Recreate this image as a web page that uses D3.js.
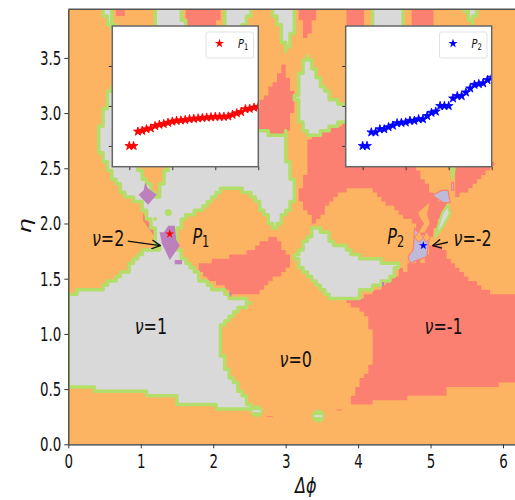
<!DOCTYPE html>
<html>
<head>
<meta charset="utf-8">
<script src="https://cdn.jsdelivr.net/npm/d3@7"></script>
<style>
	body { margin: 0; background: #fff; }
	text { font-family: 'DejaVu Sans', sans-serif; fill: #111; }
</style>
</head>
<body>
<div id="chart"></div>
<script>
//-------------------data, all regions in (delta phi, eta)----------------------------------
const xTicks = [0, 1, 2, 3, 4, 5, 6]
const yTicks = [0, 0.5, 1, 1.5, 2, 2.5, 3, 3.5]

const salmonRegions = [
	[[2.96,3.45],[3.09,3.21],[3.09,3.00],[3.02,2.83],[2.89,2.80],[2.62,2.85],[2.5,3.0],[2.62,3.06],[2.85,3.30]],
	[[1.75,1.61],[1.91,1.64],[2.23,1.71],[2.41,1.71],[2.44,1.76],[2.58,1.78],[2.65,1.82],[2.83,1.91],[3.09,1.65],[2.95,1.55],[2.78,1.46],[2.62,1.36],[2.27,1.35],[2.16,1.42],[2.00,1.47],[1.86,1.53]],
	[[3.29,2.76],[3.36,2.78],[3.64,2.87],[3.83,2.92],[3.83,2.55],[4.81,2.55],[4.81,2.50],[5.02,2.26],[5.23,2.18],[5.13,2.03],[5.03,1.90],[4.97,1.85],[4.78,1.92],[4.78,2.01],[4.65,2.05],[4.21,2.29],[4.05,2.34],[3.89,2.34],[3.82,2.29],[3.65,2.21],[3.40,2.00],[3.20,2.21],[3.20,2.33],[3.29,2.48]],
	[[5.34,2.55],[5.85,2.55],[5.85,2.50],[5.52,2.29],[5.37,2.24],[5.34,2.37]],
	[[5.09,1.82],[5.17,1.76],[5.43,1.56],[5.61,1.46],[5.85,1.37],[6.28,1.36],[6.28,0.55],[5.96,0.55],[5.89,0.50],[5.23,0.50],[5.20,0.46],[4.74,0.45],[4.69,0.39],[4.21,0.39],[4.19,0.36],[3.86,0.36],[4.16,0.72],[4.19,0.76],[4.19,1.01],[4.14,1.13],[3.96,1.24],[3.86,1.30],[4.03,1.33],[4.23,1.39],[4.37,1.46],[4.55,1.55],[4.60,1.62],[4.64,1.54],[4.70,1.66],[4.74,1.58],[4.82,1.70],[4.87,1.62],[5.02,1.80]],
	[[0.67,3.94],[0.78,3.94],[0.72,3.78]],
	[[1.60,3.94],[2.09,3.94],[2.05,3.75],[1.64,3.75]],
	[[3.17,3.94],[3.45,3.94],[3.36,3.80],[3.30,3.63],[3.25,3.71],[3.20,3.85]],
	[[3.82,3.94],[4.09,3.94],[4.11,3.75],[3.83,3.75]],
	[[4.73,3.94],[5.06,3.94],[5.02,3.75],[4.77,3.75]],
]
const salmonSlivers = [
	[[1.03,2.09],[1.22,1.90],[1.27,1.81],[1.16,1.91],[1.03,2.03]],
]
const orangePatches = [
	[[4.83,2.10],[4.99,2.19],[4.95,2.09],[4.99,2.00],[4.92,1.92],[4.83,1.91],[4.91,2.00],[4.85,2.06]],
]
const grayRegions = [
	[[0,1.33],[0.13,1.39],[0.41,1.40],[0.58,1.48],[0.78,1.56],[1.03,1.74],[1.24,1.78],[1.20,1.94],[1.09,2.09],[0.99,2.21],[0.82,2.23],[0.58,2.46],[0.44,2.67],[0.44,2.87],[0.59,3.24],[0.75,3.0],[0.95,2.50],[1.22,2.24],[1.36,2.50],[1.82,2.76],[2.62,2.85],[2.89,2.80],[3.02,2.82],[3.03,2.57],[3.13,2.24],[2.85,1.94],[2.55,2.26],[2.37,2.32],[2.19,2.32],[2.09,2.29],[1.82,2.12],[1.61,2.05],[1.50,1.91],[1.51,1.76],[1.68,1.61],[1.86,1.47],[2.27,1.33],[2.54,1.29],[2.37,1.24],[2.23,1.15],[2.12,1.05],[2.08,0.90],[2.19,0.66],[2.48,0.37],[2.60,0.31],[2.05,0.33],[2.00,0.37],[1.54,0.37],[1.47,0.43],[1.09,0.43],[1.06,0.47],[0.40,0.46],[0.34,0.53],[0,0.52]],
	[[3.29,3.51],[3.45,3.30],[3.61,3.14],[3.82,3.07],[3.82,2.92],[3.64,2.87],[3.36,2.78],[3.23,2.85],[3.17,3.06],[3.14,3.15],[3.20,3.33]],
	[[3.40,1.96],[3.57,1.90],[3.68,1.81],[3.82,1.78],[3.89,1.73],[4.03,1.70],[4.30,1.69],[4.37,1.64],[4.55,1.62],[4.47,1.52],[4.21,1.42],[4.05,1.38],[4.00,1.34],[3.65,1.33],[3.52,1.40],[3.31,1.53],[3.13,1.69]],
	[[0.47,3.94],[0.63,3.94],[0.60,3.87],[0.66,3.75],[0.58,3.78]],
	[[1.22,3.94],[1.56,3.94],[1.61,3.75],[1.22,3.75]],
	[[2.16,3.94],[2.52,3.94],[2.41,3.75],[2.15,3.75]],
	[[2.83,3.94],[3.13,3.94],[3.09,3.71],[3.00,3.57],[2.93,3.75]],
	[[4.19,3.94],[4.65,3.94],[4.58,3.75],[4.23,3.75]],
	[[5.48,3.94],[5.65,3.94],[5.57,3.81]],
]
const graySlivers = [
	[[5.24,2.17],[5.27,2.09],[5.16,1.96],[5.06,1.88],[5.10,1.97],[5.16,2.09]],
	[[5.29,2.50],[5.33,2.50],[5.30,2.40]],
]
const purpleRegions = [
	[[1.38,1.98],[1.47,1.98],[1.49,1.85],[1.54,1.80],[1.40,1.67],[1.29,1.82],[1.26,1.92],[1.32,1.92]],
	[[1.06,2.37],[1.10,2.32],[1.22,2.26],[1.10,2.17],[0.97,2.26],[1.04,2.30]],
	[[1.47,1.67],[1.57,1.67],[1.57,1.63],[1.47,1.63]],
	[[2.22,1.37],[2.26,1.37],[2.24,1.33]],
	[[4.33,1.47],[4.36,1.47],[4.36,1.43],[4.33,1.43]],
]
const lavenderRegions = [
	[[4.78,1.96],[4.85,1.90],[4.99,1.90],[4.97,1.83],[4.95,1.70],[4.83,1.67],[4.72,1.64],[4.69,1.70],[4.76,1.76]],
	[[5.03,2.26],[5.16,2.30],[5.24,2.30],[5.27,2.19],[5.17,2.19],[5.06,2.24]],
	[[5.29,2.37],[5.32,2.37],[5.32,2.30],[5.29,2.30]],
]
const p2Diamonds = [
	[[4.84,1.93],[4.90,1.87],[4.84,1.83],[4.78,1.87]],
	[[4.94,1.93],[5.00,1.87],[4.94,1.83],[4.90,1.87]],
]
const greenBlobs = [[1.38, 2.10], [1.20, 2.04], [2.60, 0.30], [3.45, 0.256]]
const blobSizes = [3.5, 2, 6, 6.5]
const salmonDashes = [[2.78, 0.25], [3.74, 0.31]]

const labels = [
	{ x: 1.14, y: 1.0, t: '=1' },
	{ x: 3.14, y: 0.70, t: '=0' },
	{ x: 5.18, y: 1.0, t: '=-1' },
	{ x: 0.55, y: 1.80, t: '=2' },
	{ x: 5.58, y: 1.80, t: '=-2' },
]
const pointNames = [{ x: 1.83, y: 1.81, t: '1' }, { x: 4.52, y: 1.81, t: '2' }]
const arrows = [
	{ from: [0.82, 1.84], to: [1.27, 1.80] },
	{ from: [5.24, 1.83], to: [5.03, 1.80] },
]
const p1Point = [1.40, 1.905]
const p2Point = [4.90, 1.80]

const insetTicksX = [0, 10, 20, 30]
const insetTicksY = [0, 1, 2]
const p1Values = [0, 0, 0.36, 0.38, 0.42, 0.44, 0.5, 0.53, 0.55, 0.58, 0.61, 0.63, 0.64, 0.65, 0.67, 0.68, 0.69, 0.7, 0.71, 0.72, 0.73, 0.73, 0.73, 0.74, 0.78, 0.82, 0.85, 0.92, 0.93, 0.96, 0.98]
const p2Values = [0, 0, 0.34, 0.34, 0.42, 0.42, 0.47, 0.51, 0.57, 0.58, 0.59, 0.63, 0.63, 0.67, 0.67, 0.75, 0.83, 0.86, 1.0, 1.0, 1.0, 1.19, 1.25, 1.25, 1.34, 1.44, 1.53, 1.55, 1.57, 1.65, 1.71]

//-------------------colors (Set3)----------------------------------
const ORANGE = '#fdb462'
const SALMON = '#fb8072'
const GRAY = '#d9d9d9'
const GREEN = '#b3de69'
const PURPLE = '#bc80bd'
const LAVENDER = '#bebada'

const width = 515
const height = 500
// the reference is squashed sideways
const squeeze = 0.67
const labelSqueeze = 0.76

const svg = d3.select('#chart').append('svg').attr('width', width).attr('height', height)
svg.append('rect').attr('width', width).attr('height', height).attr('fill', '#fff')

const defs = svg.append('defs')
defs.append('marker').attr('id', 'head').attr('viewBox', '0 0 10 10').attr('refX', 9.5).attr('refY', 5)
	.attr('markerWidth', 10).attr('markerHeight', 10).attr('markerUnits', 'userSpaceOnUse').attr('orient', 'auto')
	.append('path').attr('d', 'M1,0.5 L9.5,5 L1,9.5').attr('fill', 'none').attr('stroke', '#111').attr('stroke-width', 1.4)

const x = d3.scaleLinear().domain([0, 6.28]).range([68.3, 523.3])
const y = d3.scaleLinear().domain([0, 3.94]).range([444.3, 9.3])

defs.append('clipPath').attr('id', 'plotClip').append('rect')
	.attr('x', x(0)).attr('y', y(3.94)).attr('width', x(6.28) - x(0)).attr('height', y(0) - y(3.94))

const plot = svg.append('g').attr('clip-path', 'url(#plotClip)')
plot.append('rect').attr('x', x(0)).attr('y', y(3.94)).attr('width', x(6.28) - x(0)).attr('height', y(0) - y(3.94)).attr('fill', ORANGE)

// the original is a coarse grid, so walk each edge and snap it to get the stair steps
const cellX = 0.06
const cellY = 0.04
const stairs = poly => {
	const out = []
	poly.forEach((p, i) => {
		const q = poly[(i + 1) % poly.length]
		const n = Math.ceil(Math.hypot(q[0] - p[0], q[1] - p[1]) / 0.01)
		d3.range(n).forEach(k => {
			const sx = Math.round((p[0] + ((q[0] - p[0]) * k) / n) / cellX) * cellX
			const sy = Math.round((p[1] + ((q[1] - p[1]) * k) / n) / cellY) * cellY
			const last = out[out.length - 1]
			if (!last || last[0] !== sx || last[1] !== sy) out.push([sx, sy])
		})
	})
	return out
}
const stepLine = d3.line().x(d => x(d[0])).y(d => y(d[1])).curve(d3.curveStepAfter)
const rawLine = d3.line().x(d => x(d[0])).y(d => y(d[1])).curve(d3.curveLinearClosed)

const drawStairs = (data, fill, stroke) => plot.append('g').selectAll('path').data(data).enter().append('path')
	.attr('d', d => stepLine(stairs(d)) + 'Z')
	.attr('fill', fill)
	.attr('stroke', stroke || 'none')
	.attr('stroke-width', 3.5)
	.attr('stroke-linejoin', 'round')
const drawRaw = (data, fill, stroke, sw) => plot.append('g').selectAll('path').data(data).enter().append('path')
	.attr('d', rawLine)
	.attr('fill', fill)
	.attr('stroke', stroke || 'none')
	.attr('stroke-width', sw || 0)
	.attr('stroke-linejoin', 'round')

drawStairs(salmonRegions, SALMON)
drawRaw(salmonSlivers, SALMON)
drawRaw(orangePatches, ORANGE)
drawStairs(grayRegions, GRAY, GREEN)
drawRaw(graySlivers, GRAY, GREEN, 2.5)
drawRaw(purpleRegions, PURPLE)
drawRaw(lavenderRegions, LAVENDER, SALMON, 1.2)
drawRaw(p2Diamonds, ORANGE, SALMON, 1)

plot.append('g').selectAll('circle').data(greenBlobs).enter().append('circle')
	.attr('cx', d => x(d[0])).attr('cy', d => y(d[1])).attr('r', (d, i) => blobSizes[i]).attr('fill', GREEN)
plot.append('g').selectAll('rect').data(greenBlobs.slice(2)).enter().append('rect')
	.attr('x', d => x(d[0]) - 4).attr('y', d => y(d[1]) - 1).attr('width', 8).attr('height', 2).attr('fill', GRAY)
plot.append('g').selectAll('rect').data(salmonDashes).enter().append('rect')
	.attr('x', d => x(d[0]) - 3).attr('y', d => y(d[1]) - 0.5).attr('width', 6).attr('height', 1).attr('fill', SALMON)

//-------------------stars and arrows----------------------------------
const star = d3.symbol().type(d3.symbolStar)
plot.append('path').attr('d', star.size(24)()).attr('transform', `translate(${x(p1Point[0])},${y(p1Point[1])})`).attr('fill', 'red')
plot.append('path').attr('d', star.size(24)()).attr('transform', `translate(${x(p2Point[0])},${y(p2Point[1])})`).attr('fill', 'blue')

svg.append('g').selectAll('line').data(arrows).enter().append('line')
	.attr('x1', d => x(d.from[0])).attr('y1', d => y(d.from[1]))
	.attr('x2', d => x(d.to[0])).attr('y2', d => y(d.to[1]))
	.attr('stroke', '#111').attr('stroke-width', 1.3).attr('marker-end', 'url(#head)')

//-------------------axes----------------------------------
const xAxis = svg.append('g').attr('transform', `translate(0,${y(0)})`)
	.call(d3.axisBottom(x).tickValues(xTicks).tickFormat(d3.format('d')).tickSize(4).tickSizeOuter(0))
const yAxis = svg.append('g').attr('transform', `translate(${x(0)},0)`)
	.call(d3.axisLeft(y).tickValues(yTicks).tickFormat(d3.format('.1f')).tickSize(4).tickSizeOuter(0))
xAxis.selectAll('text').attr('y', 0).attr('font-size', 20).attr('transform', `translate(0,9.5) scale(${squeeze},1)`)
yAxis.selectAll('text').attr('x', 0).attr('font-size', 20).attr('transform', `translate(-7,0) scale(${squeeze},1)`)
svg.selectAll('.domain').attr('stroke', '#333').attr('stroke-width', 1.2)
svg.selectAll('.tick line').attr('stroke', '#333')
svg.append('line').attr('x1', x(0)).attr('x2', width).attr('y1', y(3.94)).attr('y2', y(3.94)).attr('stroke', '#555').attr('stroke-width', 1.5)

svg.append('text')
	.attr('transform', `translate(${x(3.14) + 10},493) scale(${labelSqueeze},1)`).attr('text-anchor', 'middle')
	.attr('font-size', 21).attr('font-style', 'italic').text('Δϕ')
svg.append('text').attr('transform', `translate(31,226) scale(${labelSqueeze},1) rotate(-90)`).attr('text-anchor', 'middle')
	.attr('font-size', 24).attr('font-style', 'italic').text('η')

//-------------------labels----------------------------------
labels.forEach(d => {
	const t = svg.append('text').attr('transform', `translate(${x(d.x)},${y(d.y)}) scale(${labelSqueeze},1)`)
		.attr('text-anchor', 'middle').attr('font-size', 21)
	t.append('tspan').attr('font-style', 'italic').text('ν')
	t.append('tspan').text(d.t)
})
pointNames.forEach(d => {
	const t = svg.append('text').attr('transform', `translate(${x(d.x)},${y(d.y)}) scale(${labelSqueeze},1)`)
		.attr('text-anchor', 'middle').attr('font-size', 21)
	t.append('tspan').attr('font-style', 'italic').text('P')
	t.append('tspan').attr('font-size', 15).attr('dy', 3).text(d.t)
})

//-------------------insets----------------------------------
function drawInset(left, values, color, name, legendLeft, id) {
	const top = 26
	const bottom = 166.7
	const right = left + 146
	const ix = d3.scaleLinear().domain([-3.95, 30]).range([left, right])
	const iy = d3.scaleLinear().domain([-0.52, 3]).range([bottom, top])
	const g = svg.append('g')
	g.append('rect').attr('x', left).attr('y', top).attr('width', right - left).attr('height', bottom - top).attr('fill', '#fff')
	defs.append('clipPath').attr('id', id).append('rect').attr('x', left).attr('y', top).attr('width', right - left).attr('height', bottom - top)
	g.append('g').attr('clip-path', `url(#${id})`).selectAll('path').data(values).enter().append('path')
		.attr('d', d3.symbol().type(d3.symbolStar).size(24)())
		.attr('transform', (d, i) => `translate(${ix(i)},${iy(d)})`)
		.attr('fill', color)
		.attr('stroke', color)
		.attr('stroke-width', 0.8)
	g.append('g').attr('transform', `translate(0,${bottom})`).call(d3.axisBottom(ix).tickValues(insetTicksX).tickFormat('').tickSize(3.5).tickSizeOuter(0))
	g.append('g').attr('transform', `translate(${left},0)`).call(d3.axisLeft(iy).tickValues(insetTicksY).tickFormat('').tickSize(3.5).tickSizeOuter(0))
	g.selectAll('.tick line').attr('stroke', '#333')
	g.selectAll('.domain').remove()
	g.append('rect').attr('x', left).attr('y', top).attr('width', right - left).attr('height', bottom - top)
		.attr('fill', 'none').attr('stroke', '#666').attr('stroke-width', 1.5)
	// legend
	g.append('rect').attr('x', legendLeft).attr('y', 32).attr('width', 47.5).attr('height', 26).attr('rx', 2)
		.attr('fill', '#fff').attr('stroke', '#e2e2e2').attr('stroke-width', 1)
	g.append('path').attr('d', d3.symbol().type(d3.symbolStar).size(26)()).attr('transform', `translate(${legendLeft + 13.5},43.5)`).attr('fill', color)
	const t = g.append('text').attr('transform', `translate(${legendLeft + 32},47.5) scale(${labelSqueeze},1)`).attr('font-size', 13)
	t.append('tspan').attr('font-style', 'italic').text('P')
	t.append('tspan').attr('font-size', 9).attr('dy', 2).text(name)
}
drawInset(112.3, p1Values, 'red', '1', 206, 'clipP1')
drawInset(345.7, p2Values, 'blue', '2', 439.5, 'clipP2')
</script>
</body>
</html>
